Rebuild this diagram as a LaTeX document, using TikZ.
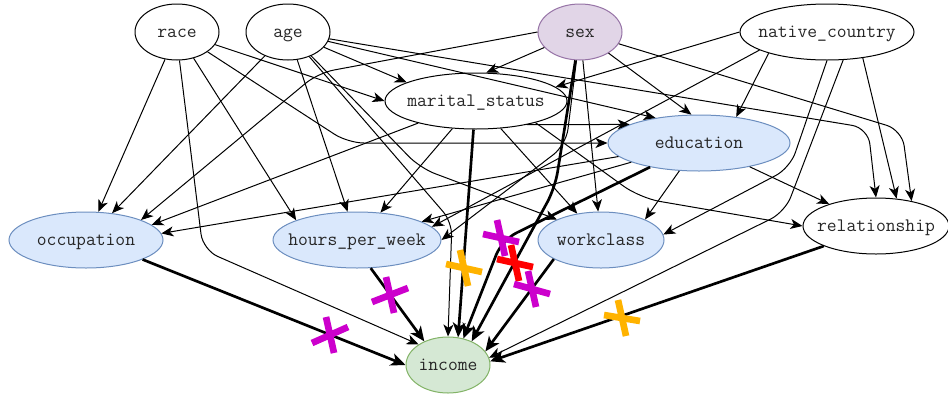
\documentclass[tikz,border=0pt]{standalone}
\usepackage{fontspec}
\usetikzlibrary{shapes.geometric,arrows.meta}

\definecolor{sexfill}{HTML}{E1D5E7}
\definecolor{sexline}{HTML}{9673A6}
\definecolor{featfill}{HTML}{DAE8FC}
\definecolor{featline}{HTML}{6C8EBF}
\definecolor{incfill}{HTML}{D5E8D4}
\definecolor{incline}{HTML}{82B366}
\definecolor{xmag}{HTML}{CC00CC}
\definecolor{xorange}{HTML}{FFB300}
\definecolor{xred}{HTML}{FF0000}

\begin{document}
\begin{tikzpicture}[x=0.75pt, y=-0.75pt,
    var/.style={ellipse, draw, line width=0.75pt, inner sep=0pt, minimum height=42pt,
        text height=9pt, text depth=1.5pt,
        text=black!85, font=\fontsize{14.3}{16}\selectfont\ttfamily},
    feature/.style={var, fill=featfill, draw=featline},
    edge/.style={line width=0.75pt, -{Stealth[length=9pt, width=7.5pt, inset=2.5pt]}},
    strong/.style={line width=2pt, -{Stealth[length=11pt, width=9.5pt, inset=3pt]}},
    cross/.style={line width=5pt}
    ]

    \useasboundingbox (0,0) rectangle (948,393);

    % variables
    \node[var, minimum width=63pt] (race) at (177,32) {\makebox[0pt]{race}};
    \node[var, minimum width=63pt] (age) at (288,32) {\makebox[0pt]{age}};
    \node[var, minimum width=63pt, fill=sexfill, draw=sexline] (sex) at (580,32) {\makebox[0pt]{sex}};
    \node[var, minimum width=130.5pt] (native) at (827,32) {\makebox[0pt]{native\_country}};
    \node[var, minimum width=136.5pt] (marital) at (476,101) {\makebox[0pt]{marital\_status}};
    \node[feature, minimum width=136.5pt] (education) at (699,143) {\makebox[0pt]{education}};
    \node[feature, minimum width=115.5pt] (occupation) at (86,240) {\makebox[0pt]{occupation}};
    \node[feature, minimum width=126pt] (hours) at (357,240) {\makebox[0pt]{hours\_per\_week}};
    \node[feature, minimum width=94.5pt] (workclass) at (601,240) {\makebox[0pt]{workclass}};
    \node[var, minimum width=109.5pt] (relationship) at (876,226) {\makebox[0pt]{relationship}};
    \node[var, minimum width=63pt, fill=incfill, draw=incline] (income) at (448,365) {\makebox[0pt]{income}};

    % race
    \draw[edge] (race) -- (occupation);
    \draw[edge] (race) -- (hours.162);
    \draw[edge] (race) -- (marital.west);
    \draw[edge, rounded corners=12pt] (race) -- (348,143) -- (education.west);
    \draw[edge, rounded corners=12pt] (race.-85) -- (203,250) -- (income.145);

    % age
    \draw[edge] (age) -- (occupation);
    \draw[edge] (age) -- (hours);
    \draw[edge] (age) -- (marital.165);
    \draw[edge] (age) -- (education.150);
    \draw[edge, rounded corners=12pt] (age) -- (868,128) -- (relationship.north);
    \draw[edge, rounded corners=12pt] (age) -- (420,168) -- (workclass.155);
    \draw[edge, rounded corners=10pt] (age) -- (452,222) -- (income.north);

    % sex
    \draw[edge] (sex) -- (marital.70);
    \draw[edge, rounded corners=12pt] (sex.west) -- (318,73) -- (occupation.20);
    \draw[edge] (sex) -- (education.105);
    \draw[edge, rounded corners=12pt] (sex) -- (902,130) -- (relationship.35);
    \draw[edge] (sex) -- (workclass);
    \draw[edge, rounded corners=12pt] (sex) -- (566,145) -- (hours.east);

    % native_country
    \draw[edge] (native.west) -- (marital.10);
    \draw[edge] (native.-165) -- (hours.10);
    \draw[edge] (native.-160) -- (education.35);
    \draw[edge, rounded corners=12pt] (native.south) -- (790,168) -- (workclass.5);
    \draw[edge] (native.-36) -- (relationship.53);
    \draw[edge, rounded corners=12pt] (native.-60) -- (785,212) -- (income.10);

    % marital_status
    \draw[edge] (marital) -- (occupation.13);
    \draw[edge] (marital) -- (hours);
    \draw[edge] (marital.-25) -- (education.165);
    \draw[edge] (marital) -- (workclass);
    \draw[edge, rounded corners=15pt] (marital.-20) -- (640,198) -- (relationship.west);

    % education
    \draw[edge] (education) -- (occupation.5);
    \draw[edge] (education) -- (hours);
    \draw[edge] (education) -- (workclass.25);
    \draw[edge] (education) -- (relationship);

    % into income
    \draw[strong] (occupation.-19) -- (income.west);
    \draw[strong] (hours.-64) -- (income.135);
    \draw[strong] (marital.-95) -- (income.70);
    \draw[strong, rounded corners=12pt] (education) -- (502,240) -- (income.60);
    \draw[strong, rounded corners=12pt] (sex) -- (555,188) -- (income.45);
    \draw[strong] (workclass.202) -- (income.20);
    \draw[strong] (relationship.201) -- (income.5);

    % removed edges
    \foreach \cx/\cy/\col/\t in {330/335/xmag/-8, 390/295/xmag/-7, 464/268/xorange/4,
        501/238/xmag/4, 515/263/xred/4, 532/289/xmag/5, 622/318/xorange/3}
        \draw[cross, \col] ({\cx-4},{\cy-18}) -- ({\cx+4},{\cy+18})
            ({\cx-18},{\cy-(\t)}) -- ({\cx+18},{\cy+(\t)});
\end{tikzpicture}
\end{document}
